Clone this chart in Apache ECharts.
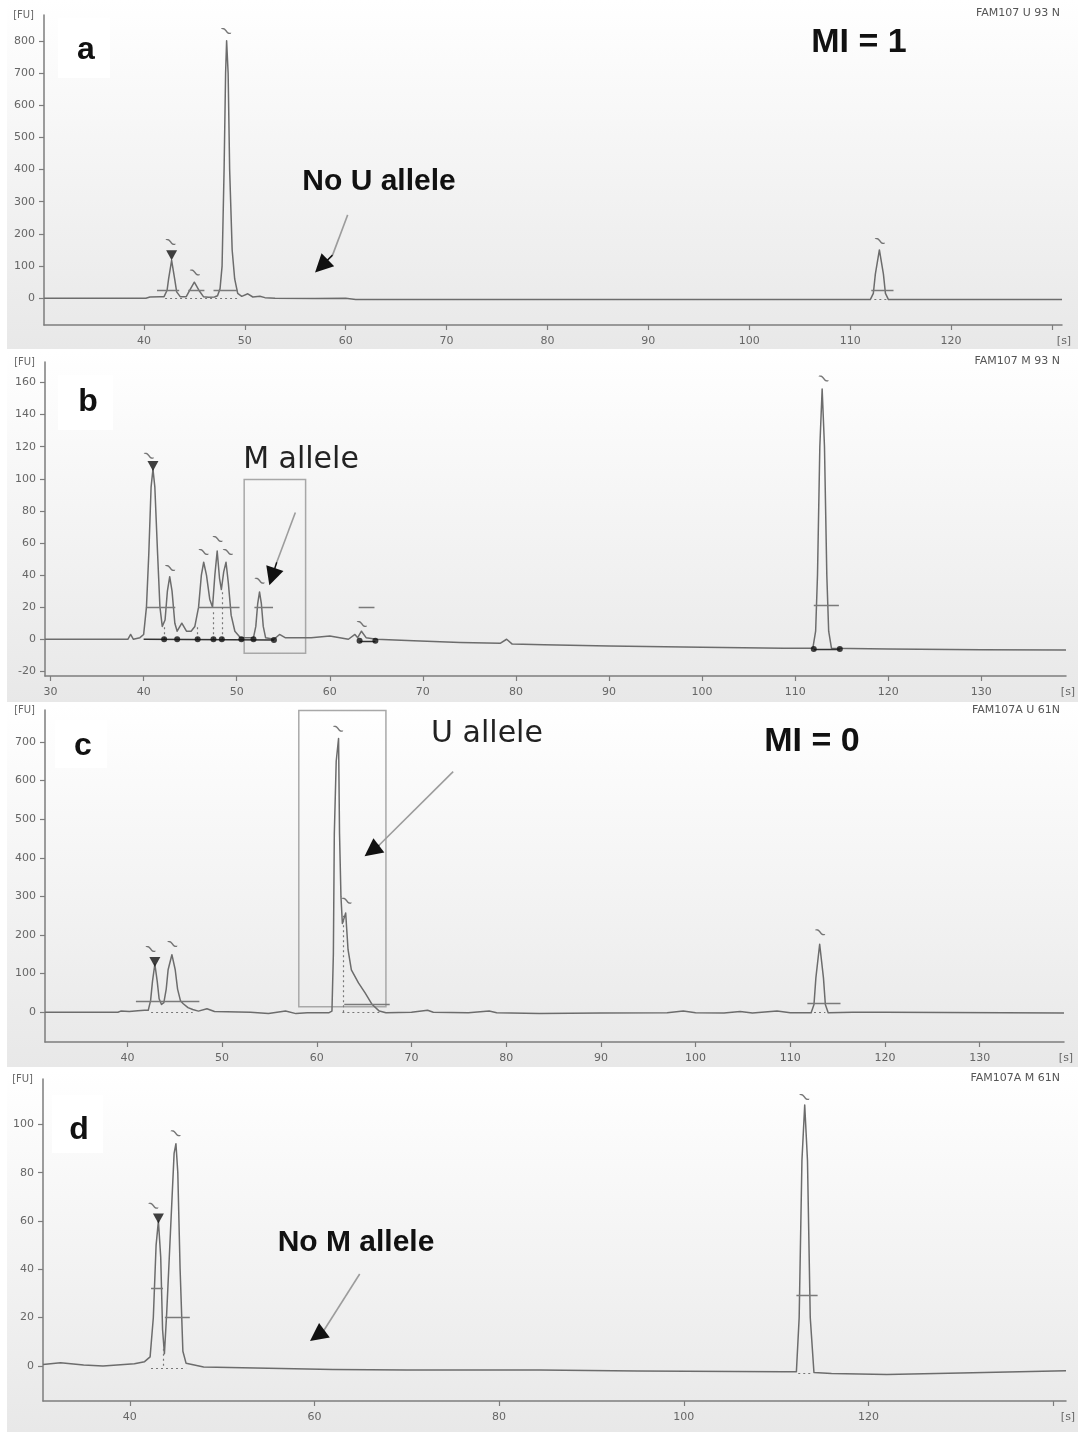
<!DOCTYPE html>
<html>
<head>
<meta charset="utf-8">
<title>FAM107 electropherograms</title>
<script src="https://cdn.jsdelivr.net/npm/echarts@6/dist/echarts.min.js"></script>
<style>
  html, body { margin: 0; padding: 0; background: #fff; }
  #main { width: 1084px; height: 1434px; }
</style>
</head>
<body>
<div id="main"></div>
<script>
// traces: [time s, FU]
var traceA = [
  [30.1, 0], [40.2, 0], [40.6, 4], [41.6, 5], [42.0, 5], [42.3, 25], [42.45, 60], [42.75, 118], [43.05, 60],
  [43.25, 20], [43.6, 5], [44.2, 5], [44.55, 25], [45.0, 50], [45.45, 25], [45.9, 5], [46.4, 3], [47.0, 4],
  [47.3, 8], [47.55, 30], [47.75, 100], [47.95, 400], [48.1, 700], [48.2, 800], [48.35, 700], [48.5, 400],
  [48.75, 150], [49.0, 60], [49.3, 15], [49.7, 6], [50.3, 14], [50.8, 4], [51.5, 6], [52.0, 2], [53.0, 0],
  [57.0, -1], [60.0, 0], [61.0, -4], [70, -4], [80, -4], [90, -4], [100, -4], [112.0, -4], [112.3, 15],
  [112.5, 75], [112.9, 150], [113.3, 75], [113.5, 15], [113.8, -4], [120, -4], [131, -4]
];
var traceB = [
  [29.4, 0], [35, 0], [38.3, 0], [38.6, 3], [38.9, 0], [39.6, 1], [40.0, 3], [40.3, 20], [40.55, 53],
  [40.8, 95], [41.0, 106], [41.2, 95], [41.5, 53], [41.75, 20], [42.0, 8], [42.3, 12], [42.55, 30],
  [42.8, 39], [43.05, 30], [43.35, 10], [43.6, 5], [44.1, 10], [44.6, 5], [45.1, 5], [45.5, 8], [45.9, 20],
  [46.2, 40], [46.45, 48], [46.75, 40], [47.1, 25], [47.4, 20], [47.65, 40], [47.9, 55], [48.15, 38],
  [48.35, 31], [48.6, 42], [48.85, 48], [49.1, 35], [49.4, 15], [49.8, 5], [50.4, 1], [51.8, 1],
  [52.05, 8], [52.25, 22], [52.45, 29.5], [52.65, 22], [52.85, 8], [53.1, 1], [54.0, 0], [54.6, 3],
  [55.2, 1], [58, 1], [60, 2], [62, 0], [62.7, 3], [63.0, 1], [63.4, 5], [63.9, 1], [65, 0], [69, -1],
  [74, -2], [78.3, -2.5], [79, 0], [79.6, -3], [83, -3.5], [90, -4.2], [100, -5], [108.8, -5.6],
  [111.9, -5.6], [112.2, 5], [112.4, 40], [112.65, 120], [112.9, 156], [113.15, 120], [113.4, 40],
  [113.6, 5], [113.9, -5.6], [120, -6], [130, -6.5], [139.1, -6.7]
];
var traceC = [
  [31.3, 0], [39.0, 0], [39.3, 3], [40.2, 2], [41.1, 4], [41.8, 5], [42.2, 5], [42.45, 30], [42.65, 80],
  [42.9, 125], [43.15, 80], [43.35, 35], [43.6, 20], [43.85, 25], [44.1, 60], [44.3, 110], [44.7, 149],
  [45.05, 110], [45.3, 60], [45.6, 30], [45.9, 22], [46.4, 12], [46.9, 7], [47.5, 3], [48.4, 9], [49.2, 2],
  [50.5, 1], [53, 0], [54.9, -3.5], [55.8, 0], [56.7, 3], [57.8, -3.5], [59, -1], [61.3, -1], [61.6, 3],
  [61.75, 150], [61.85, 463], [62.05, 650], [62.3, 709], [62.4, 463], [62.55, 300], [62.7, 230],
  [62.9, 245], [63.05, 257], [63.3, 162], [63.65, 110], [64.4, 76], [65.1, 50], [65.85, 20], [66.6, 3],
  [67.3, -1], [70, 0], [71.7, 5], [72.3, 0], [76, -1], [78.2, 3], [79, -1], [83.5, -3.5], [90, -2],
  [97, -1], [98.7, 3], [100, -1], [103, -2], [104.7, 2], [106, -2], [108.6, 3], [110, -1], [112.2, -1],
  [112.5, 20], [112.7, 89], [113.1, 176], [113.5, 89], [113.7, 20], [114.0, -1], [116.6, 0], [120, 0],
  [138.9, -2]
];
var traceD = [
  [30.6, 0.5], [32.5, 1.2], [35, 0.3], [37.1, -0.1], [39, 0.4], [40.5, 0.8], [41.6, 1.7], [42.2, 3.7],
  [42.55, 20], [42.85, 50], [43.1, 60], [43.35, 45], [43.55, 15], [43.75, 5], [44.0, 22], [44.4, 55],
  [44.8, 88], [45.0, 92], [45.2, 80], [45.45, 40], [45.75, 6], [46.1, 1], [48, -0.5], [55, -1],
  [62, -1.5], [70, -1.8], [84.4, -1.8], [95, -2.2], [110.8, -2.5], [112.2, -2.5], [112.5, 20],
  [112.8, 85], [113.1, 108], [113.4, 85], [113.7, 20], [114.1, -2.8], [116, -3.2], [122, -3.6],
  [130, -3], [141.4, -2.1]
];

// axis ranges [xMin, xMax, yMin, yMax]
var rangeA = [30.1, 131, -83, 880];
var rangeB = [29.4, 139.1, -22.9, 172.8];
var rangeC = [31.3, 138.9, -77, 782.6];
var rangeD = [30.6, 141.4, -14.6, 118.8];

// tick and label values
var xTicksA = [40, 50, 60, 70, 80, 90, 100, 110, 120, 130];
var xLabelsA = [40, 50, 60, 70, 80, 90, 100, 110, 120];
var yTicksA = [0, 100, 200, 300, 400, 500, 600, 700, 800];
var xTicksB = [30, 40, 50, 60, 70, 80, 90, 100, 110, 120, 130];
var xLabelsB = [30, 40, 50, 60, 70, 80, 90, 100, 110, 120, 130];
var yTicksB = [-20, 0, 20, 40, 60, 80, 100, 120, 140, 160];
var xTicksC = [40, 50, 60, 70, 80, 90, 100, 110, 120, 130];
var xLabelsC = [40, 50, 60, 70, 80, 90, 100, 110, 120, 130];
var yTicksC = [0, 100, 200, 300, 400, 500, 600, 700];
var xTicksD = [40, 60, 80, 100, 120, 140];
var xLabelsD = [40, 60, 80, 100, 120];
var yTicksD = [0, 20, 40, 60, 80, 100];

// peak width markers [x1, x2, y]
var halfA = [[41.3, 43.5, 26], [44.4, 46.0, 26], [46.9, 49.3, 26], [112.1, 114.3, 26]];
var halfB = [[40.3, 43.4, 20], [45.85, 50.3, 20], [51.9, 53.9, 20], [63.1, 64.8, 20], [112.0, 114.7, 21]];
var halfC = [[40.9, 47.6, 28], [62.9, 67.7, 20], [111.8, 115.3, 24]];
var halfD = [[42.3, 43.6, 32], [43.8, 46.5, 20.3], [112.2, 114.5, 29.3]];

// dotted peak boundaries [x1, y1, x2, y2]
var dashA = [[42.1, 0, 49.3, 0], [112.4, -4, 113.6, -4]];
var dashB = [[42.2, 0, 42.2, 8], [45.8, 0, 45.8, 8], [47.5, 0, 47.5, 18], [48.4, 0, 48.4, 30]];
var dashC = [[42.5, 0, 46.9, 0], [62.7, 0, 66.6, 0], [62.8, 0, 62.8, 250], [112.5, 0, 113.7, 0]];
var dashD = [[42.3, -1, 46.1, -1], [43.65, 0, 43.65, 8], [112.4, -3, 113.8, -3]];

// baseline segments between peak boundary dots (panel b)
var baseB = [[40.0, 0, 54.0, -0.5], [63.2, -1, 64.9, -1], [112.0, -6, 114.8, -6]];

// arrows: shaft [tail, head base], head [base, tip]
var arrowA = [[60.2, 259], [58.7, 134]];
var headA = [[58.7, 134], [57.6, 100]];
var arrowB = [[56.3, 79], [54.3, 48]];
var headB = [[54.3, 48], [53.8, 39]];
var arrowC = [[74.4, 623], [66.6, 433]];
var headC = [[66.6, 433], [65.8, 418]];
var arrowD = [[64.9, 38], [61.0, 14.5]];
var headD = [[61.0, 14.5], [60.3, 12.5]];

// peak flags
var topsA = [[42.75, 134]];
var topsB = [[41.0, 108]];
var topsC = [[42.9, 130]];
var topsD = [[43.1, 61]];
var tildesA = [[42.6, 173], [45.0, 78], [48.1, 828], [112.9, 176]];
var tildesB = [[40.5, 114], [42.8, 44], [46.4, 54], [47.9, 62], [49.0, 54], [52.4, 36], [63.4, 9], [113.0, 162]];
var tildesC = [[42.4, 162], [44.7, 175], [62.2, 732], [63.1, 287], [113.1, 205]];
var tildesD = [[42.5, 66], [44.9, 96], [113.0, 111]];
var dotsB = [[42.2, 0], [43.6, 0], [45.8, 0], [47.5, 0], [48.4, 0], [50.5, 0], [51.8, 0], [54.0, -0.5],
  [63.2, -1], [64.9, -1], [112.0, -6], [114.8, -6]];

// highlighted regions [[x1, y1], [x2, y2]]
var boxB = [[50.8, -8.7], [57.4, 99.6]];
var boxC = [[58.1, 14], [67.3, 781]];

var axisColor = '#7d7d7d';
var traceColor = '#6c6c6c';
var tickFont = 'DejaVu Sans';

var panels = [
  { grid: { left: 44, top: 15, width: 1018, height: 310 }, range: rangeA, xTicks: xTicksA, xLabels: xLabelsA, yTicks: yTicksA,
    trace: traceA, half: halfA, dash: dashA, base: [], arrow: arrowA, head: headA, tops: topsA, tildes: tildesA, dots: [], box: null },
  { grid: { left: 45, top: 362, width: 1021, height: 314 }, range: rangeB, xTicks: xTicksB, xLabels: xLabelsB, yTicks: yTicksB,
    trace: traceB, half: halfB, dash: dashB, base: baseB, arrow: arrowB, head: headB, tops: topsB, tildes: tildesB, dots: dotsB, box: boxB },
  { grid: { left: 45, top: 710, width: 1019, height: 332 }, range: rangeC, xTicks: xTicksC, xLabels: xLabelsC, yTicks: yTicksC,
    trace: traceC, half: halfC, dash: dashC, base: [], arrow: arrowC, head: headC, tops: topsC, tildes: tildesC, dots: [], box: boxC },
  { grid: { left: 43, top: 1079, width: 1023, height: 322 }, range: rangeD, xTicks: xTicksD, xLabels: xLabelsD, yTicks: yTicksD,
    trace: traceD, half: halfD, dash: dashD, base: [], arrow: arrowD, head: headD, tops: topsD, tildes: tildesD, dots: [], box: null }
];

function segs(list) {
  return list.map(function (s) {
    return { coords: [[s[0], s[1]], [s[2], s[3]]] };
  });
}

var grids = [], xAxes = [], yAxes = [], series = [];

panels.forEach(function (p, i) {
  grids.push(p.grid);
  xAxes.push({
    type: 'value', gridIndex: i, min: p.range[0], max: p.range[1],
    axisLine: { show: true, onZero: false, lineStyle: { color: axisColor, width: 1.5 } },
    axisTick: { show: true, length: 5, customValues: p.xTicks, lineStyle: { color: axisColor, width: 1.2 } },
    axisLabel: { customValues: p.xLabels, color: '#666', fontSize: 11, fontFamily: tickFont, margin: 11 },
    splitLine: { show: false },
    name: '[s]', nameLocation: 'end', nameGap: 0,
    nameTextStyle: { color: '#666', fontSize: 11, fontFamily: tickFont, align: 'center', verticalAlign: 'top', padding: [11, 0, 0, 4] }
  });
  yAxes.push({
    type: 'value', gridIndex: i, min: p.range[2], max: p.range[3],
    axisLine: { show: true, onZero: false, lineStyle: { color: axisColor, width: 1.5 } },
    axisTick: { show: true, length: 5, customValues: p.yTicks, lineStyle: { color: axisColor, width: 1.2 } },
    axisLabel: { customValues: p.yTicks, color: '#666', fontSize: 11, fontFamily: tickFont, margin: 9 },
    splitLine: { show: false },
    name: '[FU]', nameLocation: 'end', nameGap: 0,
    nameTextStyle: { color: '#666', fontSize: 10, fontFamily: tickFont, align: 'right', verticalAlign: 'middle', padding: [0, 10, 0, 0] }
  });

  var trace = {
    type: 'line', xAxisIndex: i, yAxisIndex: i, data: p.trace,
    showSymbol: false, symbol: 'none', smooth: false,
    lineStyle: { color: traceColor, width: 1.5, join: 'round' }, z: 3
  };
  if (p.box) {
    trace.markArea = {
      silent: true,
      itemStyle: { color: 'rgba(0,0,0,0)', borderColor: '#a8a8a8', borderWidth: 1.5 },
      data: [[{ coord: p.box[0] }, { coord: p.box[1] }]]
    };
  }
  series.push(trace);

  series.push({
    type: 'lines', coordinateSystem: 'cartesian2d', xAxisIndex: i, yAxisIndex: i, silent: true, symbol: 'none',
    data: p.half.map(function (s) { return { coords: [[s[0], s[2]], [s[1], s[2]]] }; }),
    lineStyle: { color: '#7a7a7a', width: 1.3, opacity: 1 }, z: 4
  });
  series.push({
    type: 'lines', coordinateSystem: 'cartesian2d', xAxisIndex: i, yAxisIndex: i, silent: true, symbol: 'none',
    data: segs(p.dash), lineStyle: { color: '#777', width: 1.2, type: [2, 3], opacity: 1 }, z: 4
  });
  series.push({
    type: 'lines', coordinateSystem: 'cartesian2d', xAxisIndex: i, yAxisIndex: i, silent: true, symbol: 'none',
    data: segs(p.base), lineStyle: { color: '#333', width: 1.4, opacity: 1 }, z: 4
  });
  series.push({
    type: 'lines', coordinateSystem: 'cartesian2d', xAxisIndex: i, yAxisIndex: i, silent: true, symbol: 'none',
    data: [{ coords: p.arrow }], lineStyle: { color: '#9c9c9c', width: 1.6, opacity: 1 }, z: 5
  });
  series.push({
    type: 'lines', coordinateSystem: 'cartesian2d', xAxisIndex: i, yAxisIndex: i, silent: true,
    symbol: ['none', 'triangle'], symbolSize: 18,
    data: [{ coords: p.head }], lineStyle: { color: '#111', width: 1.5, opacity: 1 }, z: 6
  });
  series.push({
    type: 'scatter', xAxisIndex: i, yAxisIndex: i, data: p.tops, silent: true,
    symbol: 'triangle', symbolRotate: 180, symbolSize: [11, 10], itemStyle: { color: '#111' }, z: 6
  });
  series.push({
    type: 'scatter', xAxisIndex: i, yAxisIndex: i, data: p.dots, silent: true,
    symbol: 'circle', symbolSize: 6, itemStyle: { color: '#111' }, z: 6
  });
  series.push({
    type: 'scatter', xAxisIndex: i, yAxisIndex: i, data: p.tildes, silent: true,
    symbolSize: 2, itemStyle: { color: 'rgba(0,0,0,0)' },
    label: { show: true, formatter: '~', position: 'inside', color: '#555', fontSize: 17, fontFamily: 'DejaVu Sans', rotate: -35 },
    z: 6
  });
});

function bg(y, h) {
  return {
    type: 'rect', z: -10, silent: true,
    shape: { x: 7, y: y, width: 1071, height: h },
    style: { fill: { type: 'linear', x: 0, y: 0, x2: 0, y2: 1, colorStops: [{ offset: 0, color: '#ffffff' }, { offset: 1, color: '#e8e8e8' }] } }
  };
}
function box(x, y, w, h) {
  return { type: 'rect', z: 1, silent: true, shape: { x: x, y: y, width: w, height: h }, style: { fill: '#ffffff' } };
}
function label(text, x, y, font, color, align) {
  return {
    type: 'text', z: 20, silent: true, x: x, y: y,
    style: { text: text, font: font, fill: color || '#111', textAlign: align || 'center', align: align || 'center',
      textVerticalAlign: 'middle', verticalAlign: 'middle' }
  };
}

var bold32 = 'bold 32px "Liberation Sans", Arial, sans-serif';
var boldNote = 'bold 30px "Liberation Sans", Arial, sans-serif';
var plainNote = '30px "DejaVu Sans", sans-serif';
var small = '11px "DejaVu Sans", sans-serif';

var graphics = [
  bg(0, 349), bg(352, 350), bg(705, 362), bg(1070, 362),
  box(58, 18, 52, 60), box(58, 375, 55, 55), box(55, 720, 52, 48), box(52, 1095, 51, 58),
  label('a', 86, 50, bold32), label('b', 88, 402, bold32), label('c', 83, 746, bold32), label('d', 79, 1130, bold32),
  label('MI = 1', 859, 43, 'bold 34px "Liberation Sans", Arial, sans-serif'),
  label('MI = 0', 812, 742, 'bold 34px "Liberation Sans", Arial, sans-serif'),
  label('No U allele', 379, 182, boldNote),
  label('No M allele', 356, 1243, boldNote),
  label('M allele', 301, 460, plainNote, '#222'),
  label('U allele', 487, 734, plainNote, '#222'),
  label('FAM107 U 93 N', 1060, 13, small, '#555', 'right'),
  label('FAM107 M 93 N', 1060, 361, small, '#555', 'right'),
  label('FAM107A U 61N', 1060, 710, small, '#555', 'right'),
  label('FAM107A M 61N', 1060, 1078, small, '#555', 'right')
];

var chart = echarts.init(document.getElementById('main'));
chart.setOption({
  animation: false,
  backgroundColor: '#ffffff',
  grid: grids,
  xAxis: xAxes,
  yAxis: yAxes,
  series: series,
  graphic: graphics
});
</script>
</body>
</html>
